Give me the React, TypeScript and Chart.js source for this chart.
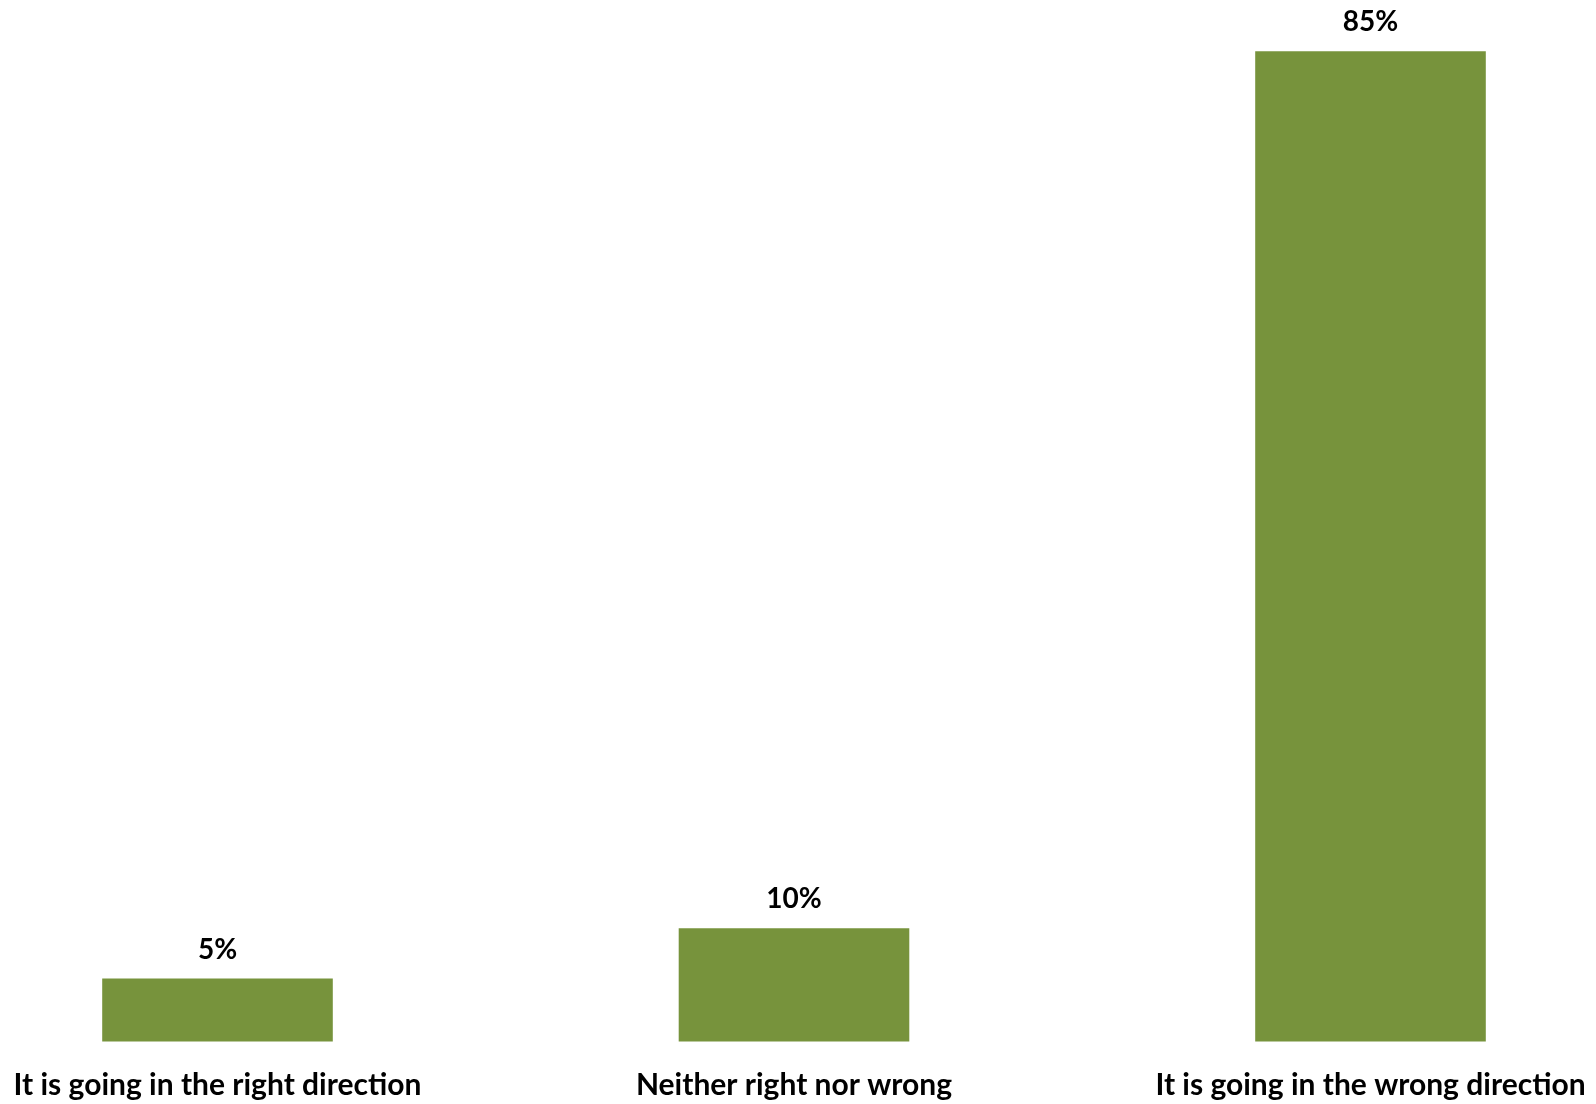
import React, { useEffect, useRef } from "react";
import { Chart, registerables } from "chart.js";

Chart.register(...registerables);

const categories = [
  "It is going in the right direction",
  "Neither right nor wrong",
  "It is going in the wrong direction",
];
const values = [5.4, 9.7, 84.9];
const barColor = "#77933C";
const yMax = 89.3;
const FONT = "Lato";

const valueLabelPlugin = {
  id: "valueLabels",
  afterDatasetsDraw(chart: any) {
    const ctx = chart.ctx;
    const meta = chart.getDatasetMeta(0);
    ctx.save();
    ctx.font = `bold 28px ${FONT}`;
    ctx.fillStyle = "#000000";
    ctx.textAlign = "center";
    ctx.textBaseline = "alphabetic";
    meta.data.forEach((bar: any, i: number) => {
      ctx.fillText(`${Math.round(values[i])}%`, bar.x, bar.y - 20);
    });
    ctx.restore();
  },
};

export default function App() {
  const ref = useRef<HTMLCanvasElement | null>(null);
  useEffect(() => {
    if (!ref.current) return;
    const chart = new Chart(ref.current, {
      type: "bar",
      data: {
        labels: categories,
        datasets: [
          {
            data: values,
            backgroundColor: barColor,
            borderWidth: 0,
            categoryPercentage: 0.4,
            barPercentage: 1.0,
            clip: false,
          } as any,
        ],
      },
      options: {
        animation: false,
        responsive: true,
        maintainAspectRatio: false,
        layout: { padding: 0 },
        plugins: {
          legend: { display: false },
          tooltip: { enabled: false },
          title: { display: false },
        },
        scales: {
          x: {
            offset: false,
            grid: { display: false, drawTicks: false },
            border: { display: false },
            ticks: {
              color: "#000000",
              font: { family: FONT, size: 30, weight: "bold" },
              padding: 26,
              maxRotation: 0,
              minRotation: 0,
              autoSkip: false,
            },
            afterFit: (scale: any) => {
              scale.paddingLeft = 217.5;
              scale.paddingRight = 225.5;
              scale.height = 62.5;
            },
          },
          y: {
            display: false,
            min: 0,
            max: yMax,
          },
        },
      },
      plugins: [valueLabelPlugin],
    });
    return () => chart.destroy();
  }, []);
  return (
    <div style={{ position: "absolute", left: 0, top: 0, width: 1596, height: 1104, background: "#fff" }}>
      <canvas ref={ref} />
    </div>
  );
}
